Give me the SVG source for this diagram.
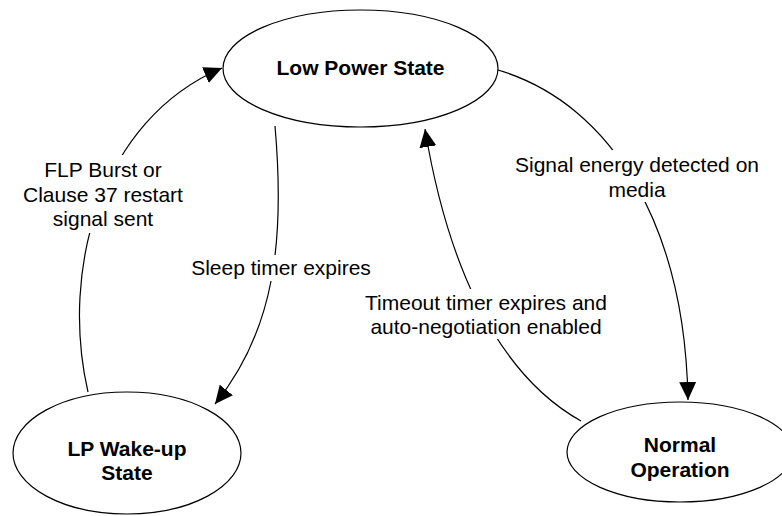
<svg xmlns="http://www.w3.org/2000/svg" width="782" height="516" viewBox="0 0 782 516">
<style>
.node{fill:#fff;stroke:#000;stroke-width:1.2}
.nt{font-family:"Liberation Sans",Arial,sans-serif;font-size:21px;font-weight:bold;text-anchor:middle;fill:#000}
.lt{font-family:"Liberation Sans",Arial,sans-serif;font-size:21px;text-anchor:middle;fill:#000}
.edge{fill:none;stroke:#000;stroke-width:1.2}
.bg{fill:#fff}
</style>
<defs>
<marker id="ah" markerWidth="18" markerHeight="17" refX="18" refY="8.5" orient="auto" markerUnits="userSpaceOnUse">
<path d="M0,0 L18,8.5 L0,17 z" fill="#000"/>
</marker>
</defs>
<g id="connectors">
<path class="edge" d="M88,392 C60,270 100,120 222,68" marker-end="url(#ah)"/>
<path class="edge" d="M275,126 C285,240 275,330 215,404" marker-end="url(#ah)"/>
<path class="edge" d="M498,70 C615,105 685,230 688,400" marker-end="url(#ah)"/>
<path class="edge" d="M581,421 C490,370 445,250 425,129" marker-end="url(#ah)"/>
</g>
<g id="labels">
<rect class="bg" x="38" y="155" width="132" height="78"/>
<text class="lt" x="103" y="177">FLP Burst or</text>
<text class="lt" x="103" y="202">Clause 37 restart</text>
<text class="lt" x="103" y="226">signal sent</text>
<rect class="bg" x="184" y="255" width="196" height="26"/>
<text class="lt" x="281" y="275">Sleep timer expires</text>
<rect class="bg" x="510" y="150" width="256" height="52"/>
<text class="lt" x="637" y="172">Signal energy detected on</text>
<text class="lt" x="637" y="197">media</text>
<rect class="bg" x="360" y="289" width="252" height="50"/>
<text class="lt" x="486" y="310">Timeout timer expires and</text>
<text class="lt" x="486" y="334">auto-negotiation enabled</text>
</g>
<g id="low-power-state">
<ellipse class="node" cx="360.5" cy="68.5" rx="137.5" ry="58.5"/>
<text class="nt" x="360.5" y="75">Low Power State</text>
</g>
<g id="lp-wake-up-state">
<ellipse class="node" cx="127" cy="453" rx="114" ry="61"/>
<text class="nt" x="127" y="456">LP Wake-up</text>
<text class="nt" x="127" y="480">State</text>
</g>
<g id="normal-operation">
<ellipse class="node" cx="680" cy="452" rx="113" ry="50"/>
<text class="nt" x="680" y="452">Normal</text>
<text class="nt" x="680" y="477">Operation</text>
</g>
</svg>
